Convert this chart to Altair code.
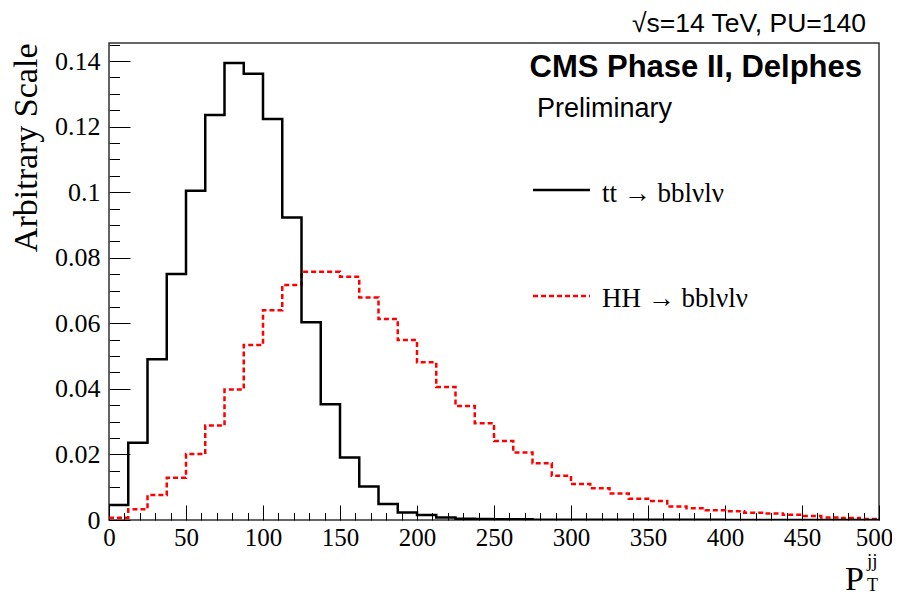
import altair as alt
import pandas as pd

# ---- data ----
bin_edges = [i * 12.5 for i in range(41)]  # 0 ... 500, 40 bins of 12.5

tt_values = [0.0046, 0.0236, 0.0490, 0.0750, 0.1004, 0.1235, 0.1394, 0.1361,
             0.1223, 0.0923, 0.0603, 0.0353, 0.0191, 0.0102, 0.0049, 0.0023,
             0.0015, 0.0008, 0.0004, 0.0003, 0.0002, 0.0002, 0.0001, 0.0001,
             0.0001, 0.0001, 0.0001, 0.0001, 0.0001, 0.0001, 0.0001, 0.0001,
             0.0, 0.0, 0.0, 0.0, 0.0, 0.0, 0.0, 0.0]

hh_values = [0.0007, 0.0033, 0.0076, 0.0129, 0.0201, 0.0288, 0.0398, 0.0534,
             0.0640, 0.0717, 0.0757, 0.0757, 0.0742, 0.0679, 0.0613, 0.0549,
             0.0481, 0.0406, 0.0348, 0.0295, 0.0241, 0.0206, 0.0173, 0.0135,
             0.0110, 0.0097, 0.0081, 0.0065, 0.0058, 0.0041, 0.0036, 0.0030,
             0.0027, 0.0022, 0.0020, 0.0016, 0.0012, 0.0008, 0.0006, 0.0003]

x_major_ticks = list(range(0, 501, 50))
x_all_ticks = list(range(0, 501, 10))
y_major_ticks = [0, 0.02, 0.04, 0.06, 0.08, 0.10, 0.12, 0.14]
y_all_ticks = [round(i * 0.005, 3) for i in range(30)]

tt_label = "tt  \u2192 bbl\u03bdl\u03bd"
hh_label = "HH  \u2192 bbl\u03bdl\u03bd"
energy_label = "\u221as=14 TeV, PU=140"
cms_label = "CMS Phase II, Delphes"
prelim_label = "Preliminary"
y_title = "Arbitrary Scale"

W, H = 770, 477
SERIF = "Liberation Serif"
SANS = "Liberation Sans"

tt_df = pd.DataFrame({"pt": bin_edges, "value": tt_values + [tt_values[-1]]})
hh_df = pd.DataFrame({"pt": bin_edges, "value": hh_values + [hh_values[-1]]})

x_scale = alt.Scale(domain=[0, 500], nice=False, zero=False)
y_scale = alt.Scale(domain=[0, 0.1455], nice=False)

# axes: labels outside (no ticks) + inward ticks via opposite-orient axes moved onto the frame
x_label_axis = alt.Axis(orient="bottom", values=x_major_ticks, ticks=False, domain=False,
                        grid=False, labelFont=SERIF, labelFontSize=25, labelColor="black",
                        labelPadding=5, labelFlush=False, labelOverlap=False, title=None,
                        labelOffset={"condition": {"test": "datum.value === 500", "value": -5},
                                     "value": 0})
x_tick_axis = alt.Axis(orient="top", offset=-H, values=x_all_ticks, labels=False,
                       domain=False, grid=False, tickColor="black", tickWidth=1,
                       tickSize={"condition": {"test": "datum.value % 50 === 0", "value": 15},
                                 "value": 7.5},
                       title=None)
y_label_axis = alt.Axis(orient="left", values=y_major_ticks, ticks=False, domain=False,
                        grid=False, format=".2~f", labelFont=SERIF, labelFontSize=26,
                        labelColor="black", labelPadding=9, labelFlush=False,
                        labelOverlap=False, title=y_title, titleFont=SERIF,
                        titleFontSize=34, titleFontWeight="normal", titleColor="black",
                        titleAngle=270, titleAlign="right", titleBaseline="alphabetic",
                        titleX=-73, titleY=0)
y_tick_axis = alt.Axis(orient="right", offset=-W, values=y_all_ticks, labels=False,
                       domain=False, grid=False, tickColor="black", tickWidth=1,
                       tickSize={"condition": {"test": "round(datum.value * 1000) % 20 === 0",
                                               "value": 21},
                                 "value": 10.5},
                       title=None)

hh_line = alt.Chart(hh_df).mark_line(
    interpolate="step-after", color="#ff0000", strokeWidth=2.5, strokeDash=[5, 3], clip=True
).encode(
    x=alt.X("pt:Q", scale=x_scale, axis=x_tick_axis),
    y=alt.Y("value:Q", scale=y_scale, axis=y_tick_axis),
)

tt_line = alt.Chart(tt_df).mark_line(
    interpolate="step-after", color="black", strokeWidth=2.5, clip=True
).encode(
    x=alt.X("pt:Q", scale=x_scale, axis=x_label_axis),
    y=alt.Y("value:Q", scale=y_scale, axis=y_label_axis),
)

one = alt.Data(values=[{}])


def txt(text, x, y, font, size, align="left", weight="normal"):
    return alt.Chart(one).mark_text(
        text=text, font=font, fontSize=size, align=align, baseline="alphabetic",
        fontWeight=weight, color="black"
    ).encode(x=alt.value(x), y=alt.value(y))


energy_txt = txt(energy_label, 757, -11, SANS, 26.5, align="right")
cms_txt = txt(cms_label, 753, 34, SANS, 31, align="right", weight="bold")
prelim_txt = txt(prelim_label, 428, 74, SANS, 27)
tt_txt = txt(tt_label, 493, 159, SERIF, 27)
hh_txt = txt(hh_label, 493, 264, SERIF, 27)
p_txt = txt("P", 736, 547, SERIF, 34)
sup_txt = txt("jj", 758, 524, SERIF, 19)
sub_txt = txt("T", 758, 548, SERIF, 18)

tt_key = alt.Chart(one).mark_rule(color="black", strokeWidth=2.5).encode(
    x=alt.value(424), x2=alt.value(481), y=alt.value(147))
hh_key = alt.Chart(one).mark_rule(color="#ff0000", strokeWidth=2.5, strokeDash=[5, 3]).encode(
    x=alt.value(424), x2=alt.value(481), y=alt.value(253))

chart = alt.layer(
    hh_line, tt_line, energy_txt, cms_txt, prelim_txt, tt_key, hh_key, tt_txt, hh_txt,
    p_txt, sup_txt, sub_txt
).resolve_axis(
    x="independent", y="independent"
).properties(
    width=W, height=H,
    autosize=alt.AutoSizeParams(type="none"),
    padding={"left": 101, "top": 35, "right": 13, "bottom": 78},
    background="white",
).configure_view(
    stroke="#333333", strokeWidth=1.5
)

chart.save("out.html", embed_options={"renderer": "svg", "actions": False})
